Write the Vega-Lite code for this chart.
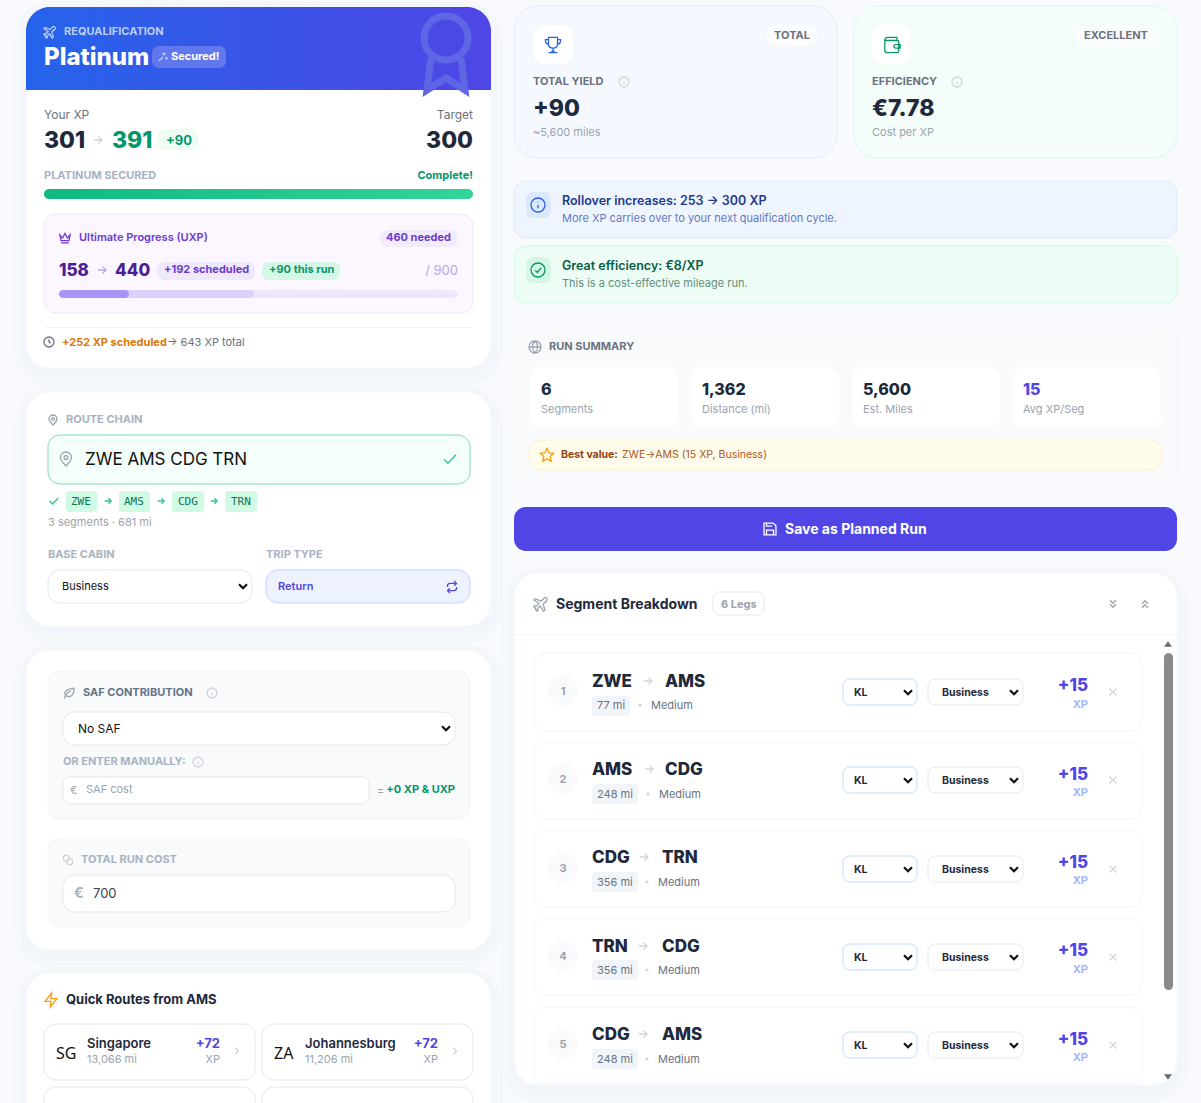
{
"$schema":"https://vega.github.io/schema/vega-lite/v6.json",
"description":"Requalification planner dashboard: Platinum status, run summary and segment breakdown.",
"width":1201,"height":1103,"padding":0,
"autosize":{"type":"fit","contains":"padding"},
"background":"#f8fafd",
"config":{"view":{"stroke":null},"text":{"dy":1}},
"datasets":{
"shadows":[
{"left":26,"right":491,"top":7,"bottom":368},{"left":26,"right":491,"top":392,"bottom":626},{"left":26,"right":491,"top":650,"bottom":950},{"left":26,"right":491,"top":973,"bottom":1140},{"left":514,"right":1177,"top":573,"bottom":1085}],
"r24":[
{"left":26,"right":491,"top":7,"bottom":368,"kind":"card"},{"left":26,"right":491,"top":392,"bottom":626,"kind":"card"},{"left":26,"right":491,"top":650,"bottom":950,"kind":"card"},{"left":26,"right":491,"top":973,"bottom":1140,"kind":"card"},{"left":514,"right":1177,"top":573,"bottom":1085,"kind":"card"},
{"left":514,"right":837,"top":6,"bottom":158,"kind":"statBlue"},{"left":854,"right":1177,"top":6,"bottom":158,"kind":"statGreen"}],
"header":[{"left":26,"right":491,"top":7,"bottom":90}],
"greenBar":[{"left":44,"right":473,"top":189,"bottom":199}],
"r12":[
{"left":44,"right":473,"top":214,"bottom":313,"kind":"uxp"},
{"left":48,"right":470,"top":435,"bottom":484,"kind":"routeOk"},
{"left":48,"right":252,"top":570,"bottom":603,"kind":"field"},{"left":266,"right":470,"top":570,"bottom":603,"kind":"tripOn"},
{"left":48,"right":470,"top":671,"bottom":819,"kind":"panel"},{"left":48,"right":470,"top":838,"bottom":927,"kind":"panel"},
{"left":63,"right":455,"top":712,"bottom":745,"kind":"field"},{"left":63,"right":455,"top":875,"bottom":912,"kind":"field"},
{"left":44,"right":255,"top":1024,"bottom":1080,"kind":"field"},{"left":262,"right":473,"top":1024,"bottom":1080,"kind":"field"},{"left":44,"right":255,"top":1087,"bottom":1140,"kind":"field"},{"left":262,"right":473,"top":1087,"bottom":1140,"kind":"field"},
{"left":514,"right":1177,"top":181,"bottom":238,"kind":"bannerBlue"},{"left":514,"right":1177,"top":246,"bottom":303,"kind":"bannerGreen"},
{"left":514,"right":1177,"top":325,"bottom":486,"kind":"panel"},
{"left":533,"right":573,"top":25,"bottom":64,"kind":"tile"},{"left":872,"right":911,"top":25,"bottom":64,"kind":"tile"},
{"left":530,"right":678,"top":367,"bottom":428,"kind":"tile"},{"left":691,"right":839,"top":367,"bottom":428,"kind":"tile"},{"left":852,"right":1000,"top":367,"bottom":428,"kind":"tile"},{"left":1013,"right":1161,"top":367,"bottom":428,"kind":"tile"},
{"left":529,"right":1162,"top":440,"bottom":470,"kind":"best"},
{"left":514,"right":1177,"top":507,"bottom":551,"kind":"button"},
{"left":534,"right":1142,"top":653,"bottom":731,"kind":"seg"},{"left":534,"right":1142,"top":742,"bottom":819,"kind":"seg"},{"left":534,"right":1142,"top":830,"bottom":907,"kind":"seg"},{"left":534,"right":1142,"top":918,"bottom":995,"kind":"seg"},{"left":534,"right":1142,"top":1007,"bottom":1085,"kind":"seg"}],
"r7":[
{"left":152,"right":226,"top":46,"bottom":68,"kind":"secured"},{"left":158,"right":198,"top":129,"bottom":150,"kind":"gain"},
{"left":157,"right":255,"top":262,"bottom":280,"kind":"sched"},{"left":262,"right":340,"top":262,"bottom":280,"kind":"runGain"},
{"left":63,"right":369,"top":777,"bottom":804,"kind":"field"},
{"left":767,"right":817,"top":26,"bottom":46,"kind":"badge"},{"left":1076,"right":1156,"top":26,"bottom":46,"kind":"badge"},
{"left":526,"right":551,"top":192,"bottom":218,"kind":"iconBlue"},{"left":526,"right":551,"top":257,"bottom":283,"kind":"iconGreen"},
{"left":713,"right":764,"top":592,"bottom":615,"kind":"field"},
{"left":843,"right":917,"top":679,"bottom":705,"kind":"fieldBlue"},{"left":928,"right":1023,"top":679,"bottom":705,"kind":"field"},
{"left":843,"right":917,"top":767,"bottom":793,"kind":"fieldBlue"},{"left":928,"right":1023,"top":767,"bottom":793,"kind":"field"},
{"left":843,"right":917,"top":856,"bottom":882,"kind":"fieldBlue"},{"left":928,"right":1023,"top":856,"bottom":882,"kind":"field"},
{"left":843,"right":917,"top":944,"bottom":970,"kind":"fieldBlue"},{"left":928,"right":1023,"top":944,"bottom":970,"kind":"field"},
{"left":843,"right":917,"top":1032,"bottom":1058,"kind":"fieldBlue"},{"left":928,"right":1023,"top":1032,"bottom":1058,"kind":"field"}],
"r3":[
{"left":66,"right":97,"top":491,"bottom":512,"kind":"iata"},{"left":119,"right":150,"top":491,"bottom":512,"kind":"iata"},{"left":172,"right":204,"top":491,"bottom":512,"kind":"iata"},{"left":225,"right":257,"top":491,"bottom":512,"kind":"iata"},
{"left":592,"right":630,"top":696,"bottom":716,"kind":"mi"},{"left":592,"right":638,"top":784,"bottom":804,"kind":"mi"},{"left":592,"right":638,"top":872,"bottom":892,"kind":"mi"},{"left":592,"right":638,"top":960,"bottom":980,"kind":"mi"},{"left":592,"right":638,"top":1049,"bottom":1069,"kind":"mi"},
{"left":44,"right":473,"top":327,"bottom":328,"kind":"rule"},{"left":514,"right":1177,"top":634,"bottom":635,"kind":"rule"}],
"pills":[
{"left":380,"right":458,"top":230,"bottom":247,"kind":"uxpNeed"},
{"left":59,"right":458,"top":290,"bottom":298,"kind":"track"},{"left":59,"right":254,"top":290,"bottom":298,"kind":"trackMid"},{"left":59,"right":129,"top":290,"bottom":298,"kind":"trackLow"},
{"left":548,"right":578,"top":676,"bottom":706,"kind":"num"},{"left":548,"right":578,"top":764,"bottom":794,"kind":"num"},{"left":548,"right":578,"top":853,"bottom":883,"kind":"num"},{"left":548,"right":578,"top":941,"bottom":971,"kind":"num"},{"left":548,"right":578,"top":1029,"bottom":1059,"kind":"num"},
{"left":1164,"right":1173,"top":653,"bottom":990,"kind":"thumb"}],
"text400":[
{"label":"Your XP","x":44,"y":114,"tone":"muted","level":"body"},
{"label":"→ 643 XP total","x":167,"y":342,"tone":"muted","level":"small"},
{"label":"3 segments · 681 mi","x":48,"y":522,"tone":"soft","level":"small"},
{"label":"ZWE AMS CDG TRN","x":85,"y":459,"tone":"black","level":"code"},
{"label":"Business","x":62,"y":586,"tone":"black","level":"small"},
{"label":"No SAF","x":78,"y":728,"tone":"black","level":"body"},
{"label":"€","x":70,"y":790,"tone":"soft","level":"small"},
{"label":"SAF cost","x":86,"y":789,"tone":"soft","level":"small"},
{"label":"=","x":377,"y":790,"tone":"soft","level":"small"},
{"label":"700","x":93,"y":893,"tone":"dark","level":"item"},
{"label":"13,066 mi","x":87,"y":1059,"tone":"soft","level":"small"},
{"label":"11,206 mi","x":305,"y":1059,"tone":"soft","level":"small"},
{"label":"~5,600 miles","x":533,"y":132,"tone":"soft","level":"small"},
{"label":"Cost per XP","x":872,"y":132,"tone":"soft","level":"small"},
{"label":"More XP carries over to your next qualification cycle.","x":562,"y":218,"tone":"blueSub","level":"small"},
{"label":"This is a cost-effective mileage run.","x":562,"y":283,"tone":"greenSub","level":"small"},
{"label":"Segments","x":541,"y":409,"tone":"soft","level":"small"},
{"label":"Distance (mi)","x":702,"y":409,"tone":"soft","level":"small"},
{"label":"Est. Miles","x":863,"y":409,"tone":"soft","level":"small"},
{"label":"Avg XP/Seg","x":1023,"y":409,"tone":"soft","level":"small"},
{"label":"ZWE→AMS (15 XP, Business)","x":622,"y":454,"tone":"brownSub","level":"caption"},
{"label":"77 mi","x":597,"y":705,"tone":"muted","level":"small"},{"label":"Medium","x":651,"y":705,"tone":"muted","level":"small"},
{"label":"248 mi","x":597,"y":794,"tone":"muted","level":"small"},{"label":"Medium","x":659,"y":794,"tone":"muted","level":"small"},
{"label":"356 mi","x":597,"y":882,"tone":"muted","level":"small"},{"label":"Medium","x":658,"y":882,"tone":"muted","level":"small"},
{"label":"356 mi","x":597,"y":970,"tone":"muted","level":"small"},{"label":"Medium","x":658,"y":970,"tone":"muted","level":"small"},
{"label":"248 mi","x":597,"y":1059,"tone":"muted","level":"small"},{"label":"Medium","x":658,"y":1059,"tone":"muted","level":"small"}],
"textMono":[
{"label":"ZWE","x":71,"y":501,"tone":"mono","level":"small"},{"label":"AMS","x":124,"y":501,"tone":"mono","level":"small"},{"label":"CDG","x":178,"y":501,"tone":"mono","level":"small"},{"label":"TRN","x":231,"y":501,"tone":"mono","level":"small"}],
"textFlag":[
{"label":"SG","x":56,"y":1053,"tone":"black","level":"flag"},{"label":"ZA","x":274,"y":1053,"tone":"black","level":"flag"}],
"text600":[
{"label":"Ultimate Progress (UXP)","x":79,"y":237,"tone":"purple","level":"small"},
{"label":"Return","x":278,"y":586,"tone":"indigo","level":"small"},
{"label":"Singapore","x":87,"y":1043,"tone":"ink","level":"item"},
{"label":"Johannesburg","x":305,"y":1043,"tone":"ink","level":"item"},
{"label":"Rollover increases: 253 → 300 XP","x":562,"y":200,"tone":"blueDeep","level":"lead"},
{"label":"Great efficiency: €8/XP","x":562,"y":265,"tone":"greenDeep","level":"lead"}],
"text700":[
{"label":"REQUALIFICATION","x":64,"y":31,"tone":"requal","level":"small"},
{"label":"Secured!","x":171,"y":56,"tone":"white","level":"small"},
{"label":"+90","x":166,"y":140,"tone":"green","level":"item"},
{"label":"PLATINUM SECURED","x":44,"y":175,"tone":"pale","level":"small"},
{"label":"+192 scheduled","x":164,"y":269,"tone":"purple","level":"small"},
{"label":"+90 this run","x":269,"y":269,"tone":"green","level":"small"},
{"label":"+252 XP scheduled","x":62,"y":342,"tone":"amber","level":"small"},
{"label":"ROUTE CHAIN","x":66,"y":419,"tone":"pale","level":"small"},
{"label":"BASE CABIN","x":48,"y":554,"tone":"pale","level":"small"},
{"label":"TRIP TYPE","x":266,"y":554,"tone":"pale","level":"small"},
{"label":"SAF CONTRIBUTION","x":83,"y":692,"tone":"slate","level":"small"},
{"label":"OR ENTER MANUALLY:","x":63,"y":761,"tone":"pale","level":"small"},
{"label":"TOTAL RUN COST","x":81,"y":859,"tone":"pale","level":"small"},
{"label":"€","x":74,"y":893,"tone":"pale","level":"strong"},
{"label":"Quick Routes from AMS","x":66,"y":999,"tone":"ink","level":"item"},
{"label":"TOTAL YIELD","x":533,"y":81,"tone":"muted","level":"small"},
{"label":"EFFICIENCY","x":872,"y":81,"tone":"muted","level":"small"},
{"label":"RUN SUMMARY","x":549,"y":346,"tone":"muted","level":"small"},
{"label":"Best value:","x":561,"y":454,"tone":"brown","level":"caption"},
{"label":"Save as Planned Run","x":785,"y":529,"tone":"white","level":"strong"},
{"label":"Segment Breakdown","x":556,"y":604,"tone":"ink","level":"strong"},
{"label":"6 Legs","x":721,"y":604,"tone":"soft","level":"small"},
{"label":"KL","x":854,"y":692,"tone":"ink","level":"caption"},{"label":"Business","x":942,"y":692,"tone":"ink","level":"caption"},
{"label":"KL","x":854,"y":780,"tone":"ink","level":"caption"},{"label":"Business","x":942,"y":780,"tone":"ink","level":"caption"},
{"label":"KL","x":854,"y":869,"tone":"ink","level":"caption"},{"label":"Business","x":942,"y":869,"tone":"ink","level":"caption"},
{"label":"KL","x":854,"y":957,"tone":"ink","level":"caption"},{"label":"Business","x":942,"y":957,"tone":"ink","level":"caption"},
{"label":"KL","x":854,"y":1045,"tone":"ink","level":"caption"},{"label":"Business","x":942,"y":1045,"tone":"ink","level":"caption"}],
"text800":[
{"label":"Platinum","x":44,"y":57,"tone":"white","level":"title"},
{"label":"301","x":44,"y":140,"tone":"ink","level":"stat"},
{"label":"391","x":112,"y":140,"tone":"green","level":"stat"},
{"label":"158","x":59,"y":270,"tone":"deep","level":"code"},
{"label":"440","x":115,"y":270,"tone":"deep","level":"code"},
{"label":"+90","x":533,"y":108,"tone":"ink","level":"stat"},
{"label":"€7.78","x":872,"y":108,"tone":"ink","level":"stat"},
{"label":"6","x":541,"y":389,"tone":"ink","level":"flag"},
{"label":"1,362","x":702,"y":389,"tone":"ink","level":"flag"},
{"label":"5,600","x":863,"y":389,"tone":"ink","level":"flag"},
{"label":"15","x":1023,"y":389,"tone":"indigo","level":"flag"},
{"label":"ZWE","x":592,"y":681,"tone":"ink","level":"code"},{"label":"AMS","x":665,"y":681,"tone":"ink","level":"code"},
{"label":"AMS","x":592,"y":769,"tone":"ink","level":"code"},{"label":"CDG","x":665,"y":769,"tone":"ink","level":"code"},
{"label":"CDG","x":592,"y":857,"tone":"ink","level":"code"},{"label":"TRN","x":662,"y":857,"tone":"ink","level":"code"},
{"label":"TRN","x":592,"y":946,"tone":"ink","level":"code"},{"label":"CDG","x":662,"y":946,"tone":"ink","level":"code"},
{"label":"CDG","x":592,"y":1034,"tone":"ink","level":"code"},{"label":"AMS","x":662,"y":1034,"tone":"ink","level":"code"}],
"right400":[
{"label":"Target","x":473,"y":114,"tone":"muted","level":"body"},
{"label":"/ 900","x":458,"y":270,"tone":"lilac","level":"item"},
{"label":"XP","x":220,"y":1059,"tone":"soft","level":"small"},
{"label":"XP","x":438,"y":1059,"tone":"soft","level":"small"}],
"right700":[
{"label":"Complete!","x":473,"y":175,"tone":"green","level":"small"},
{"label":"460 needed","x":451,"y":237,"tone":"purple","level":"small"},
{"label":"+0 XP & UXP","x":455,"y":789,"tone":"green","level":"small"},
{"label":"+72","x":220,"y":1043,"tone":"indigo","level":"item"},
{"label":"+72","x":438,"y":1043,"tone":"indigo","level":"item"},
{"label":"XP","x":1088,"y":704,"tone":"xpFaint","level":"small"},{"label":"XP","x":1088,"y":792,"tone":"xpFaint","level":"small"},{"label":"XP","x":1088,"y":880,"tone":"xpFaint","level":"small"},{"label":"XP","x":1088,"y":969,"tone":"xpFaint","level":"small"},{"label":"XP","x":1088,"y":1057,"tone":"xpFaint","level":"small"}],
"right800":[
{"label":"300","x":473,"y":140,"tone":"ink","level":"stat"},
{"label":"+15","x":1088,"y":685,"tone":"indigo","level":"code"},{"label":"+15","x":1088,"y":774,"tone":"indigo","level":"code"},{"label":"+15","x":1088,"y":862,"tone":"indigo","level":"code"},{"label":"+15","x":1088,"y":950,"tone":"indigo","level":"code"},{"label":"+15","x":1088,"y":1039,"tone":"indigo","level":"code"}],
"center700":[
{"label":"TOTAL","x":792,"y":35,"tone":"muted","level":"small"},
{"label":"EXCELLENT","x":1116,"y":35,"tone":"muted","level":"small"},
{"label":"1","x":563,"y":691,"tone":"soft","level":"small"},{"label":"2","x":563,"y":779,"tone":"soft","level":"small"},{"label":"3","x":563,"y":868,"tone":"soft","level":"small"},{"label":"4","x":563,"y":956,"tone":"soft","level":"small"},{"label":"5","x":563,"y":1044,"tone":"soft","level":"small"}],
"medal":[
{"icon":"medal","x":446,"y":60,"tone":"watermark","level":"i100"}],
"thinIcons":[
{"icon":"plane","x":50,"y":32,"tone":"requal","level":"i12"},
{"icon":"spark","x":163,"y":57,"tone":"requal","level":"i10"},
{"icon":"arrow","x":98,"y":140,"tone":"line","level":"i10"},
{"icon":"crown","x":65,"y":238,"tone":"purple","level":"i12"},
{"icon":"arrow","x":102,"y":270,"tone":"lilac","level":"i10"},
{"icon":"clock","x":49,"y":342,"tone":"muted","level":"i10"},
{"icon":"pin","x":53,"y":420,"tone":"soft","level":"i10"},
{"icon":"pin","x":66,"y":459,"tone":"soft","level":"i14"},
{"icon":"check","x":450,"y":459,"tone":"mint","level":"i14"},
{"icon":"check","x":54,"y":501,"tone":"mint","level":"i10"},
{"icon":"arrow","x":108,"y":501,"tone":"mint","level":"i8"},{"icon":"arrow","x":161,"y":501,"tone":"mint","level":"i8"},{"icon":"arrow","x":214,"y":501,"tone":"mint","level":"i8"},
{"icon":"repeat","x":452,"y":587,"tone":"indigo","level":"i12"},
{"icon":"leaf","x":69,"y":693,"tone":"soft","level":"i12"},
{"icon":"info","x":212,"y":693,"tone":"line","level":"i10"},
{"icon":"info","x":198,"y":762,"tone":"line","level":"i10"},
{"icon":"coins","x":68,"y":860,"tone":"line","level":"i10"},
{"icon":"bolt","x":51,"y":1000,"tone":"orange","level":"i14"},
{"icon":"right","x":237,"y":1051,"tone":"line","level":"i8"},{"icon":"right","x":455,"y":1051,"tone":"line","level":"i8"},
{"icon":"trophy","x":553,"y":45,"tone":"blue","level":"i18"},
{"icon":"wallet","x":892,"y":45,"tone":"greenIcon","level":"i18"},
{"icon":"info","x":624,"y":82,"tone":"line","level":"i10"},{"icon":"info","x":957,"y":82,"tone":"line","level":"i10"},
{"icon":"info","x":538,"y":205,"tone":"blue","level":"i14"},
{"icon":"circlecheck","x":538,"y":270,"tone":"greenIcon","level":"i14"},
{"icon":"globe","x":535,"y":347,"tone":"soft","level":"i12"},
{"icon":"star","x":547,"y":455,"tone":"orange","level":"i14"},
{"icon":"save","x":770,"y":529,"tone":"white","level":"i14"},
{"icon":"plane","x":541,"y":604,"tone":"soft","level":"i14"},
{"icon":"down2","x":1113,"y":604,"tone":"soft","level":"i10"},{"icon":"up2","x":1145,"y":604,"tone":"soft","level":"i10"},
{"icon":"arrow","x":648,"y":681,"tone":"line","level":"i10"},{"icon":"arrow","x":649,"y":769,"tone":"line","level":"i10"},{"icon":"arrow","x":644,"y":857,"tone":"line","level":"i10"},{"icon":"arrow","x":643,"y":946,"tone":"line","level":"i10"},{"icon":"arrow","x":643,"y":1034,"tone":"line","level":"i10"},
{"icon":"xmark","x":1113,"y":692,"tone":"line","level":"i10"},{"icon":"xmark","x":1113,"y":780,"tone":"line","level":"i10"},{"icon":"xmark","x":1113,"y":869,"tone":"line","level":"i10"},{"icon":"xmark","x":1113,"y":957,"tone":"line","level":"i10"},{"icon":"xmark","x":1113,"y":1045,"tone":"line","level":"i10"}],
"heavyIcons":[
{"icon":"chev","x":243,"y":586,"tone":"black","level":"i10"},{"icon":"chev","x":446,"y":728,"tone":"black","level":"i10"},
{"icon":"chev","x":908,"y":692,"tone":"black","level":"i10"},{"icon":"chev","x":1014,"y":692,"tone":"black","level":"i10"},
{"icon":"chev","x":908,"y":780,"tone":"black","level":"i10"},{"icon":"chev","x":1014,"y":780,"tone":"black","level":"i10"},
{"icon":"chev","x":908,"y":869,"tone":"black","level":"i10"},{"icon":"chev","x":1014,"y":869,"tone":"black","level":"i10"},
{"icon":"chev","x":908,"y":957,"tone":"black","level":"i10"},{"icon":"chev","x":1014,"y":957,"tone":"black","level":"i10"},
{"icon":"chev","x":908,"y":1045,"tone":"black","level":"i10"},{"icon":"chev","x":1014,"y":1045,"tone":"black","level":"i10"}],
"solidIcons":[
{"icon":"triup","x":1168,"y":644,"tone":"scroll","level":"i8"},{"icon":"tridown","x":1168,"y":1077,"tone":"scroll","level":"i8"},
{"icon":"dot","x":640,"y":705,"tone":"line","level":"i8"},{"icon":"dot","x":648,"y":794,"tone":"line","level":"i8"},{"icon":"dot","x":647,"y":882,"tone":"line","level":"i8"},{"icon":"dot","x":647,"y":970,"tone":"line","level":"i8"},{"icon":"dot","x":647,"y":1059,"tone":"line","level":"i8"}]
},
"layer":[
{
"encoding":{
"x":{"field":"left","type":"quantitative","axis":null,"scale":{"domain":[0,1201],"nice":false,"zero":false}},
"x2":{"field":"right"},
"y":{"field":"top","type":"quantitative","axis":null,"scale":{"domain":[1103,0],"nice":false,"zero":false}},
"y2":{"field":"bottom"},
"fill":{"field":"kind","type":"nominal","legend":null,"scale":{
"domain":["card","statBlue","statGreen","uxp","routeOk","field","fieldBlue","tripOn","panel","bannerBlue","bannerGreen","tile","best","button","seg","secured","gain","sched","runGain","badge","iconBlue","iconGreen","iata","mi","rule","uxpNeed","track","trackMid","trackLow","num","thumb"],
"range":["#ffffff","#f5f9ff","#f4fdf9","#fbf6ff","#f4fefa","#ffffff","#ffffff","#eef2fe","#f8fafc","#eff5ff","#edfdf5","#ffffff","#fffbeb","#4f46e5","#ffffff","#6078ec","#eefcf4","#eee9fb","#d5f7e6","#fbfcfe","#dbe8fe","#d5f7e5","#d1fae5","#f1f5f9","#f1f5f9","#f1ebfb","#efe8fd","#ddd0fb","#ab94f5","#f8fafc","#8a8a8a"]}},
"stroke":{"field":"kind","type":"nominal","legend":null,"scale":{
"domain":["card","statBlue","statGreen","uxp","routeOk","field","fieldBlue","tripOn","panel","bannerBlue","bannerGreen","tile","best","button","seg","secured","gain","sched","runGain","badge","iconBlue","iconGreen","iata","mi","rule","uxpNeed","track","trackMid","trackLow","num","thumb"],
"range":["#f6f8fb","#e0ecfb","#dcf7ea","#f1e6fb","#7edcb8","#e5e7eb","#bfdbfe","#c7d2fe","#f1f5f9","#dbeafe","#d1fae5","transparent","#fdf0c4","transparent","#f1f5f9","transparent","transparent","transparent","transparent","transparent","transparent","transparent","transparent","transparent","transparent","transparent","transparent","transparent","transparent","transparent","transparent"]}}
},
"layer":[
{"data":{"name":"shadows"},"mark":{"type":"rect","clip":true,"fill":"transparent","stroke":"#94a3b8","strokeOpacity":0.025,"strokeWidth":24,"cornerRadius":26,"yOffset":6,"y2Offset":6},"encoding":{"fill":null,"stroke":null}},
{"data":{"name":"shadows"},"mark":{"type":"rect","clip":true,"fill":"transparent","stroke":"#94a3b8","strokeOpacity":0.03,"strokeWidth":12,"cornerRadius":25,"yOffset":5,"y2Offset":5},"encoding":{"fill":null,"stroke":null}},
{"data":{"name":"r24"},"mark":{"type":"rect","clip":true,"cornerRadius":24}},
{"data":{"name":"header"},"mark":{"type":"rect","clip":true,"cornerRadiusTopLeft":24,"cornerRadiusTopRight":24,"fill":{"gradient":"linear","x1":0,"y1":0,"x2":1,"y2":0,"stops":[{"offset":0,"color":"#2563eb"},{"offset":1,"color":"#4f46e5"}]}},"encoding":{"fill":null,"stroke":null}},
{"data":{"name":"greenBar"},"mark":{"type":"rect","cornerRadius":5,"fill":{"gradient":"linear","x1":0,"y1":0,"x2":1,"y2":0,"stops":[{"offset":0,"color":"#10b981"},{"offset":1,"color":"#34d399"}]}},"encoding":{"fill":null,"stroke":null}},
{"data":{"name":"r12"},"mark":{"type":"rect","clip":true,"cornerRadius":12}},
{"data":{"name":"r7"},"mark":{"type":"rect","cornerRadius":7}},
{"data":{"name":"r3"},"mark":{"type":"rect","cornerRadius":3}},
{"data":{"name":"pills"},"mark":{"type":"rect","cornerRadius":99}}
]
},
{
"encoding":{
"x":{"field":"x","type":"quantitative","axis":null,"scale":{"domain":[0,1201],"nice":false,"zero":false}},
"y":{"field":"y","type":"quantitative","axis":null,"scale":{"domain":[1103,0],"nice":false,"zero":false}},
"size":{"field":"level","type":"nominal","legend":null,"scale":{"type":"ordinal",
"domain":["caption","small","body","lead","item","strong","flag","code","stat","title","i8","i10","i12","i14","i18","i100"],
"range":[10.5,11,12,12.5,13,14,16,17,23,24,64,100,144,196,324,10000]}},
"color":{"field":"tone","type":"nominal","legend":null,"scale":{
"domain":["white","requal","ink","green","muted","soft","pale","purple","deep","lilac","amber","indigo","blueDeep","blueSub","greenDeep","greenSub","brown","brownSub","mono","black","slate","dark","xpFaint","watermark","line","mint","orange","blue","greenIcon","scroll"],
"range":["#ffffff","#bccdfa","#1e293b","#059669","#6b7280","#9ca3af","#a8b2c3","#6d3bd0","#4c1d95","#b9a7e8","#d97706","#4f46e5","#1e3a8a","#6478c4","#065f46","#5f8f7c","#92400e","#a8591f","#047857","#111111","#64748b","#334155","#a5b4fc","#5f66e6","#d1d5db","#34c48f","#f59e0b","#2563eb","#059669","#6b6b6b"]}}
},
"layer":[
{
"encoding":{"text":{"field":"label"}},
"layer":[
{"data":{"name":"text400"},"mark":{"type":"text","font":"Inter","fontWeight":400,"align":"left"}},
{"data":{"name":"textMono"},"mark":{"type":"text","font":"DejaVu Sans Mono","fontWeight":400,"align":"left"}},
{"data":{"name":"textFlag"},"mark":{"type":"text","font":"Noto Sans","fontWeight":400,"align":"left"}},
{"data":{"name":"text600"},"mark":{"type":"text","font":"Inter","fontWeight":600,"align":"left"}},
{"data":{"name":"text700"},"mark":{"type":"text","font":"Inter","fontWeight":700,"align":"left"}},
{"data":{"name":"text800"},"mark":{"type":"text","font":"Inter","fontWeight":800,"align":"left"}},
{"data":{"name":"right400"},"mark":{"type":"text","font":"Inter","fontWeight":400,"align":"right"}},
{"data":{"name":"right700"},"mark":{"type":"text","font":"Inter","fontWeight":700,"align":"right"}},
{"data":{"name":"right800"},"mark":{"type":"text","font":"Inter","fontWeight":800,"align":"right"}},
{"data":{"name":"center700"},"mark":{"type":"text","font":"Inter","fontWeight":700,"align":"center"}}
]
},
{
"encoding":{
"shape":{"field":"icon","type":"nominal","legend":null,"scale":{
"domain":["medal","plane","spark","arrow","crown","clock","pin","check","repeat","leaf","info","coins","bolt","right","trophy","wallet","circlecheck","globe","star","save","down2","up2","xmark","chev","triup","tridown","dot"],
"range":[
"M0.44,-0.44A0.44,0.44 0 1 1 -0.44,-0.44A0.44,0.44 0 1 1 0.44,-0.44ZM-0.3,-0.04L-0.38,0.6L0,0.36L0.38,0.6L0.3,-0.04",
"M0.5,-0.9C0.7,-1 0.95,-0.75 0.85,-0.5L0.3,0L0.55,0.85L0.35,1L-0.1,0.3L-0.5,0.65L-0.45,0.95L-0.65,1L-0.8,0.6L-1,0.45L-0.95,0.25L-0.65,0.3L-0.3,-0.1L-1,-0.55L-0.85,-0.75L0,-0.4Z",
"M-0.8,0.8L0,0M0.2,-0.9V-0.3M-0.1,-0.6H0.5M0.7,0V0.5M0.45,0.25H0.95",
"M-0.8,0H0.8M0.1,-0.7L0.8,0L0.1,0.7",
"M-0.85,-0.5L-0.4,0L0,-0.75L0.4,0L0.85,-0.5L0.65,0.45H-0.65ZM-0.65,0.8H0.65",
"M1,0A1,1 0 1 1 -1,0A1,1 0 1 1 1,0ZM0,-0.55V0L0.35,0.25",
"M0,1C-0.5,0.5 -0.8,0.1 -0.8,-0.2A0.8,0.8 0 1 1 0.8,-0.2C0.8,0.1 0.5,0.5 0,1ZM0.27,-0.2A0.27,0.27 0 1 1 -0.27,-0.2A0.27,0.27 0 1 1 0.27,-0.2Z",
"M-0.85,0.05L-0.3,0.6L0.85,-0.6",
"M0.35,-1L0.75,-0.6L0.35,-0.2M-0.75,0V-0.2C-0.75,-0.45 -0.55,-0.6 -0.3,-0.6H0.75M-0.35,1L-0.75,0.6L-0.35,0.2M0.75,0V0.2C0.75,0.45 0.55,0.6 0.3,0.6H-0.75",
"M-0.8,0.9C-0.5,0.2 -0.1,-0.2 0.3,-0.3M-0.55,0.45C-1,-0.3 -0.3,-0.6 0.85,-0.8C0.8,0.3 0.3,0.9 -0.55,0.45Z",
"M1,0A1,1 0 1 1 -1,0A1,1 0 1 1 1,0ZM0,-0.05V0.45M0,-0.45V-0.4",
"M0.25,-0.35A0.6,0.6 0 1 1 -0.95,-0.35A0.6,0.6 0 1 1 0.25,-0.35ZM0.95,0.35A0.6,0.6 0 1 1 -0.25,0.35A0.6,0.6 0 1 1 0.95,0.35Z",
"M0.1,-1L-0.85,0.2H0L-0.1,1L0.85,-0.2H0Z",
"M-0.4,-0.8L0.4,0L-0.4,0.8",
"M-0.5,-0.85H0.5V-0.1C0.5,0.2 0.3,0.35 0,0.35C-0.3,0.35 -0.5,0.2 -0.5,-0.1ZM-0.5,-0.6H-0.85C-0.85,-0.25 -0.75,-0.1 -0.5,-0.1M0.5,-0.6H0.85C0.85,-0.25 0.75,-0.1 0.5,-0.1M0,0.35V0.7M-0.5,0.85H0.5M-0.2,0.7H0.2",
"M-0.8,-0.55C-0.8,-0.8 -0.6,-0.85 -0.45,-0.85H0.55V-0.5M-0.8,-0.55V0.6C-0.8,0.75 -0.65,0.85 -0.5,0.85H0.6C0.7,0.85 0.75,0.75 0.75,0.65V-0.35C0.75,-0.45 0.7,-0.5 0.6,-0.5H-0.6C-0.7,-0.5 -0.8,-0.5 -0.8,-0.55ZM0.9,-0.05H0.4A0.2,0.2 0 0 0 0.4,0.35H0.9Z",
"M1,0A1,1 0 1 1 -1,0A1,1 0 1 1 1,0ZM-0.4,0.05L-0.1,0.35L0.45,-0.3",
"M1,0A1,1 0 1 1 -1,0A1,1 0 1 1 1,0ZM-1,0H1M0,-1C-0.55,-0.4 -0.55,0.4 0,1C0.55,0.4 0.55,-0.4 0,-1Z",
"M0,-0.95L0.3,-0.3L0.95,-0.25L0.45,0.2L0.6,0.9L0,0.55L-0.6,0.9L-0.45,0.2L-0.95,-0.25L-0.3,-0.3Z",
"M-0.85,-0.85H0.45L0.85,-0.45V0.85H-0.85ZM-0.5,0.85V0.15H0.5V0.85M-0.5,-0.85V-0.4H0.3",
"M-0.6,-0.75L0,-0.15L0.6,-0.75M-0.6,0.05L0,0.65L0.6,0.05",
"M-0.6,0.75L0,0.15L0.6,0.75M-0.6,-0.05L0,-0.65L0.6,-0.05",
"M-0.7,-0.7L0.7,0.7M0.7,-0.7L-0.7,0.7",
"M-0.8,-0.35L0,0.45L0.8,-0.35",
"M-1,0.7L0,-0.7L1,0.7Z",
"M-1,-0.7L0,0.7L1,-0.7Z",
"M0.4,0A0.4,0.4 0 1 1 -0.4,0A0.4,0.4 0 1 1 0.4,0Z"]}}
},
"layer":[
{"data":{"name":"medal"},"mark":{"type":"point","filled":false,"opacity":1,"strokeWidth":7}},
{"data":{"name":"thinIcons"},"mark":{"type":"point","filled":false,"opacity":1,"strokeWidth":1.3}},
{"data":{"name":"heavyIcons"},"mark":{"type":"point","filled":false,"opacity":1,"strokeWidth":2.2}},
{"data":{"name":"solidIcons"},"mark":{"type":"point","filled":true,"opacity":1}}
]
}
]
}
]
}
